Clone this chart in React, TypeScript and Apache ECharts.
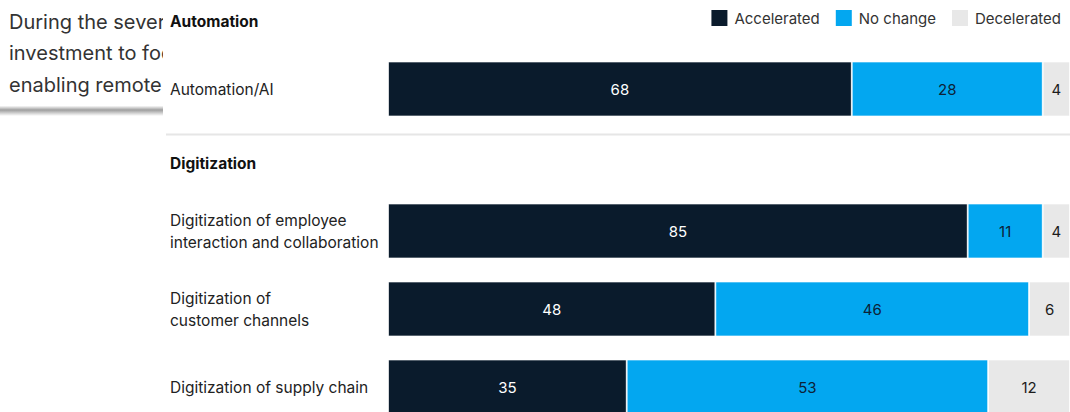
import React, { useEffect, useRef } from "react";
import * as echarts from "echarts";

const automationCategories = ["Automation/AI"];
const digitizationCategories = [
  "Digitization of employee\ninteraction and collaboration",
  "Digitization of\ncustomer channels",
  "Digitization of supply chain",
];
const automationAccelerated = [68];
const automationNoChange = [28];
const automationDecelerated = [4];
const digitizationAccelerated = [85, 48, 35];
const digitizationNoChange = [11, 46, 53];
const digitizationDecelerated = [4, 6, 12];
const legendNames = ["Accelerated", "No change", "Decelerated"];
const sectionTitles = ["Automation", "Digitization"];
const introLines = ["During the sever", "investment to foc", "enabling remote"];

const FONT = "Inter, 'Liberation Sans', Arial, sans-serif";
const DARK = "#0a1b2c";
const BLUE = "#03a7f0";
const GRAY = "#e8e8e8";

export default function App() {
  const ref = useRef<HTMLDivElement>(null);
  useEffect(() => {
    if (!ref.current) return;
    const chart = echarts.init(ref.current, undefined, { renderer: "svg" });
    const colors = [DARK, BLUE, GRAY];
    const labelColors = ["#ffffff", "#0d2236", "#1c1c1c"];
    const mk = (name: string, idx: number, data: number[], axis: number) => ({
      type: "bar",
      name,
      stack: "s" + axis,
      xAxisIndex: axis,
      yAxisIndex: axis,
      data,
      barWidth: 55,
      itemStyle: { color: colors[idx], borderColor: "#ffffff", borderWidth: 0.8 },
      label: {
        show: true,
        position: "inside",
        color: labelColors[idx],
        fontSize: 15,
        fontFamily: FONT,
      },
    });
    const yAxisBase = (gridIndex: number, data: string[]) => ({
      type: "category",
      gridIndex,
      data,
      inverse: true,
      z: 5,
      axisLine: { show: false },
      axisTick: { show: false },
      axisLabel: {
        align: "left",
        margin: 218,
        fontSize: 15.5,
        lineHeight: 22,
        color: "#222222",
        fontFamily: FONT,
      },
    });
    chart.setOption({
      animation: false,
      backgroundColor: "#ffffff",
      legend: {
        data: legendNames,
        right: 4,
        top: 5,
        icon: "rect",
        itemWidth: 16,
        itemHeight: 16,
        itemGap: 16,
        itemStyle: { borderWidth: 0 },
        textStyle: { fontSize: 15, color: "#333333", fontFamily: FONT, padding: [0, 0, 0, 2] },
        z: 6,
      },
      grid: [
        { left: 388, right: 0, top: 50, height: 78, outerBoundsMode: "none" },
        { left: 388, right: 0, top: 192, height: 234, outerBoundsMode: "none" },
      ],
      xAxis: [
        { type: "value", gridIndex: 0, min: 0, max: 100, show: false },
        { type: "value", gridIndex: 1, min: 0, max: 100, show: false },
      ],
      yAxis: [yAxisBase(0, automationCategories), yAxisBase(1, digitizationCategories)],
      series: [
        mk(legendNames[0], 0, automationAccelerated, 0),
        mk(legendNames[1], 1, automationNoChange, 0),
        mk(legendNames[2], 2, automationDecelerated, 0),
        mk(legendNames[0], 0, digitizationAccelerated, 1),
        mk(legendNames[1], 1, digitizationNoChange, 1),
        mk(legendNames[2], 2, digitizationDecelerated, 1),
      ],
      graphic: {
        elements: [
          ...introLines.map((t, i) => ({
            type: "text",
            x: 9,
            y: [22, 53, 85][i],
            z: 0,
            style: {
              text: t,
              fontSize: 20,
              fill: "#333333",
              fontFamily: FONT,
              verticalAlign: "middle",
            },
          })),
          {
            type: "rect",
            z: 0,
            shape: { x: 0, y: 106, width: 163, height: 10 },
            style: {
              fill: new echarts.graphic.LinearGradient(0, 0, 0, 1, [
                { offset: 0, color: "rgba(0,0,0,0.03)" },
                { offset: 0.4, color: "rgba(0,0,0,0.38)" },
                { offset: 1, color: "rgba(0,0,0,0)" },
              ]),
            },
          },
          {
            type: "rect",
            z: 1,
            shape: { x: 163, y: 0, width: 907, height: 412 },
            style: { fill: "#ffffff" },
          },
          {
            type: "line",
            z: 5,
            shape: { x1: 166, y1: 134.5, x2: 1070, y2: 134.5 },
            style: { stroke: "#e6e6e6", lineWidth: 2 },
          },
          ...sectionTitles.map((t, i) => ({
            type: "text",
            x: 170,
            y: [21, 163][i],
            z: 5,
            style: {
              text: t,
              fontSize: 15.5,
              fontWeight: "bold",
              fill: "#111111",
              fontFamily: FONT,
              verticalAlign: "middle",
            },
          })),
        ],
      },
    });
    return () => chart.dispose();
  }, []);
  return (
    <div
      ref={ref}
      style={{ position: "fixed", left: 0, top: 0, width: 1070, height: 412, background: "#fff" }}
    />
  );
}
